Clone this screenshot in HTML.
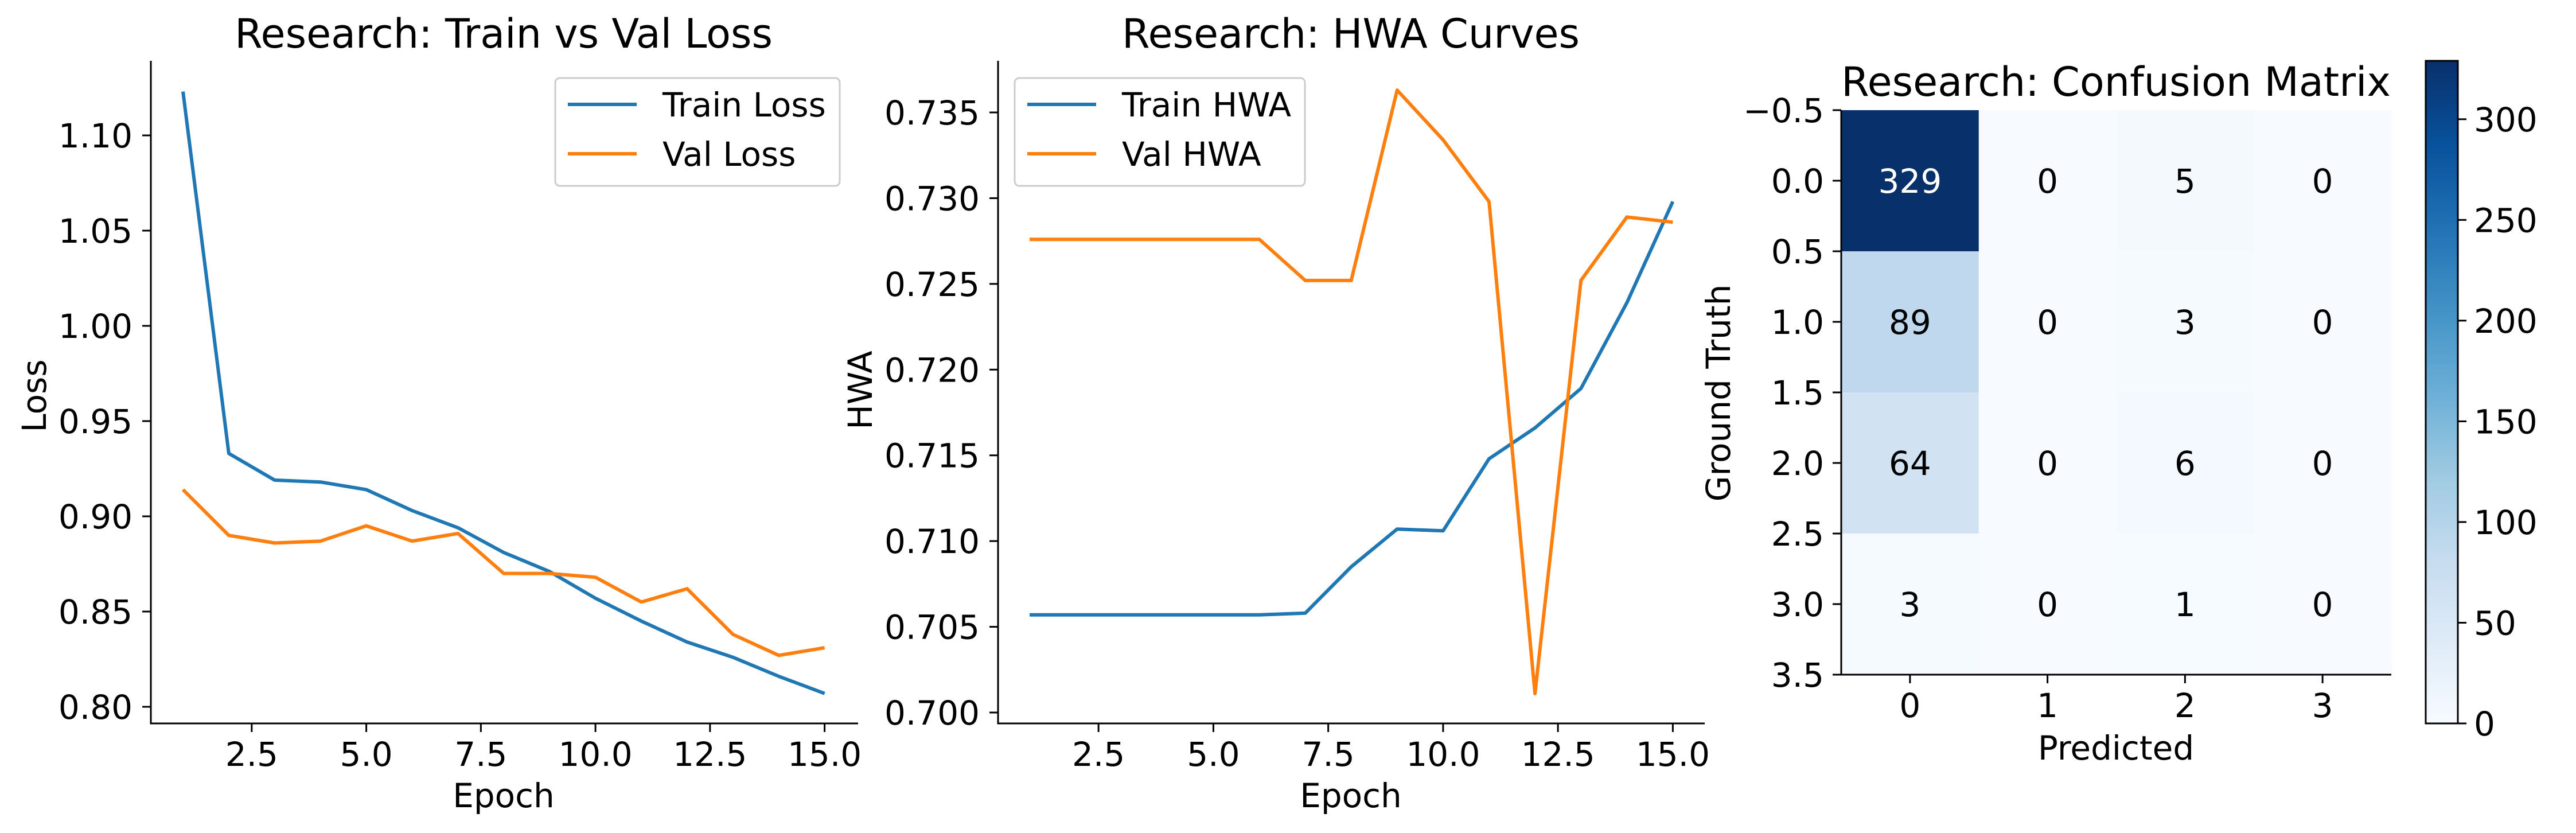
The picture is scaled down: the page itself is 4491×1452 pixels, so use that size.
<!DOCTYPE html>
<html><head><meta charset="utf-8"><style>
html,body{margin:0;padding:0;background:#fff;}
svg{display:block;font-family:"DejaVu Sans","Liberation Sans",sans-serif;}
</style></head><body>
<svg id="fig" width="4491" height="1452" viewBox="0 0 4491 1452" xmlns="http://www.w3.org/2000/svg"></svg>
<script>
const epochs=[1,2,3,4,5,6,7,8,9,10,11,12,13,14,15];
const trainLoss=[1.123,0.933,0.919,0.918,0.914,0.903,0.894,0.881,0.871,0.857,0.845,0.834,0.826,0.816,0.807];
const valLoss=[0.914,0.890,0.886,0.887,0.895,0.887,0.891,0.870,0.870,0.868,0.855,0.862,0.838,0.827,0.831];
const trainHWA=[0.7057,0.7057,0.7057,0.7057,0.7057,0.7057,0.7058,0.7085,0.7107,0.7106,0.7148,0.7166,0.7189,0.7239,0.7298];
const valHWA=[0.7276,0.7276,0.7276,0.7276,0.7276,0.7276,0.7252,0.7252,0.7363,0.7334,0.7298,0.7011,0.7252,0.7289,0.7286];
const xTicks=[2.5,5.0,7.5,10.0,12.5,15.0];
const lossTicks=[0.80,0.85,0.90,0.95,1.00,1.05,1.10];
const hwaTicks=[0.700,0.705,0.710,0.715,0.720,0.725,0.730,0.735];
const cmClasses=[0,1,2,3];
const cmValues=[[329,0,5,0],[89,0,3,0],[64,0,6,0],[3,0,1,0]];
const cmYTicks=[-0.5,0.0,0.5,1.0,1.5,2.0,2.5,3.0,3.5];
const cbTicks=[0,50,100,150,200,250,300];

const svg=document.getElementById('fig');
const NS='http://www.w3.org/2000/svg';
function mk(tag,attrs,parent){const e=document.createElementNS(NS,tag);for(const k in attrs)e.setAttribute(k,attrs[k]);(parent||svg).appendChild(e);return e;}
function txt(s,attrs,parent){const e=mk('text',attrs,parent);e.textContent=s;return e;}
const FS=58, TFS=70;
const BLUE='#1f77b4', ORANGE='#ff7f0e';

function linePanel(cfg){
  const g=mk('g',{});
  
  
  const sx=v=>cfg.x0px+(v-cfg.x0v)*cfg.xs;
  const sy=v=>cfg.y0px+(v-cfg.y0v)*cfg.ys;
  cfg.series.forEach(s=>{
    const d=epochs.map((e,i)=>(i?'L':'M')+sx(e).toFixed(1)+' '+sy(s.data[i]).toFixed(1)).join(' ');
    const p=mk('path',{d:d,fill:'none',stroke:s.color,'stroke-width':6,'stroke-linejoin':'round'},g);
    
    
  });
  const ax=mk('path',{d:`M${cfg.left} ${cfg.top} V${cfg.bottom} H${cfg.right}`,fill:'none',stroke:'#000','stroke-width':3},g);
  
  
  xTicks.forEach(t=>{
    const x=sx(t);
    mk('line',{x1:x,y1:cfg.bottom,x2:x,y2:cfg.bottom+15,stroke:'#000','stroke-width':3},g);
    const l=txt(t.toFixed(1),{x:x,y:1335,'font-size':FS,'text-anchor':'middle'},g);
    
    
  });
  cfg.yTicks.forEach(t=>{
    const y=sy(t);
    mk('line',{x1:cfg.left,y1:y,x2:cfg.left-15,y2:y,stroke:'#000','stroke-width':3},g);
    const l=txt(t.toFixed(cfg.dec),{x:cfg.left-32,y:y+21,'font-size':FS,'text-anchor':'end'},g);
    
    
  });
  const t=txt(cfg.title,{x:cfg.tx,y:83,'font-size':TFS,'text-anchor':'middle'},g);
  
  
  const xl=txt('Epoch',{x:cfg.tx,y:1407,'font-size':FS,'text-anchor':'middle'},g);
  
  
  const yl=txt(cfg.ylabel,{x:0,y:0,'font-size':FS,'text-anchor':'middle',transform:`translate(${cfg.ylx},${cfg.yly}) rotate(-90)`},g);
  
  
  const lg=mk('g',{},g);
  
  
  mk('rect',{x:cfg.lx,y:136,width:cfg.lw,height:188,rx:8,fill:'#fff','fill-opacity':0.8,stroke:'#ccc','stroke-width':3},lg);
  cfg.series.forEach((s,i)=>{
    const yy=182+i*86;
    const e=mk('g',{},lg);
    
    
    mk('line',{x1:cfg.lx+22,y1:yy,x2:cfg.lx+142,y2:yy,stroke:s.color,'stroke-width':6},e);
    txt(s.label,{x:cfg.lx+187,y:yy+21,'font-size':FS},e);
  });
}
linePanel({name:'loss-chart',title:'Research: Train vs Val Loss',ylabel:'Loss',
  left:263,right:1496,top:106,bottom:1261,x0v:1,x0px:319,xs:79.9,y0v:0.80,y0px:1232,ys:-(1232-236)/0.30,
  yTicks:lossTicks,dec:2,tx:878,ylx:80,yly:690,lx:968,lw:496,
  series:[{id:'train-loss-line',label:'Train Loss',data:trainLoss,color:BLUE},{id:'val-loss-line',label:'Val Loss',data:valLoss,color:ORANGE}]});
linePanel({name:'hwa-chart',title:'Research: HWA Curves',ylabel:'HWA',
  left:1740,right:2972,top:106,bottom:1261,x0v:1,x0px:1795,xs:80.1,y0v:0.700,y0px:1242,ys:-(1242-196)/0.035,
  yTicks:hwaTicks,dec:3,tx:2355,ylx:1520,yly:680,lx:1769,lw:506,
  series:[{id:'train-hwa-line',label:'Train HWA',data:trainHWA,color:BLUE},{id:'val-hwa-line',label:'Val HWA',data:valHWA,color:ORANGE}]});

const stops=['#f7fbff','#deebf7','#c6dbef','#9ecae1','#6baed6','#4292c6','#2171b5','#08519c','#08306b'];
function hex(h){return [1,3,5].map(i=>parseInt(h.substr(i,2),16));}
function blues(t){t=Math.max(0,Math.min(1,t));const f=t*8,i=Math.min(7,Math.floor(f)),r=f-i;const a=hex(stops[i]),b=hex(stops[i+1]);return 'rgb('+a.map((v,k)=>Math.round(v+(b[k]-v)*r)).join(',')+')';}
const vmax=Math.max(...cmValues.flat()), vmin=0;
const cmL=3210,cmR=4169,cmT=192,cmB=1176;
const cw=(cmR-cmL)/4,ch=(cmB-cmT)/4;
const cg=mk('g',{});


cmValues.forEach((row,r)=>row.forEach((v,c)=>{
  const rc=mk('rect',{x:cmL+c*cw,y:cmT+r*ch,width:cw+0.5,height:ch+0.5,fill:blues((v-vmin)/(vmax-vmin))},cg);
  
  
  const t=txt(String(v),{x:cmL+(c+0.5)*cw,y:cmT+(r+0.5)*ch+21,'font-size':FS,'text-anchor':'middle',fill:v>vmax/2?'#fff':'#000'},cg);
  
  
}));
mk('path',{d:`M${cmL} ${cmT} V${cmB} H${cmR}`,fill:'none',stroke:'#000','stroke-width':3},cg);
cmClasses.forEach(c=>{
  const x=cmL+(c+0.5)*cw;
  mk('line',{x1:x,y1:cmB,x2:x,y2:cmB+15,stroke:'#000','stroke-width':3},cg);
  const l=txt(String(c),{x:x,y:1250,'font-size':FS,'text-anchor':'middle'},cg);
  
  
});
cmYTicks.forEach(t=>{
  const y=cmT+(t+0.5)*ch;
  mk('line',{x1:cmL,y1:y,x2:cmL-15,y2:y,stroke:'#000','stroke-width':3},cg);
  const l=txt((t<0?'\u2212':'')+Math.abs(t).toFixed(1),{x:3180,y:y+21,'font-size':FS,'text-anchor':'end'},cg);
  
  
});
const ct=txt('Research: Confusion Matrix',{x:3689,y:167,'font-size':TFS,'text-anchor':'middle'},cg);


const px=txt('Predicted',{x:3689,y:1324,'font-size':FS,'text-anchor':'middle'},cg);


const gy=txt('Ground Truth',{x:0,y:0,'font-size':FS,'text-anchor':'middle',transform:'translate(3016,685) rotate(-90)'},cg);


const cbL=4229,cbR=4285,cbT=106,cbB=1261;
const cb=mk('g',{});


const defs=mk('defs',{},cb);
const lgr=mk('linearGradient',{id:'bl',x1:0,y1:1,x2:0,y2:0},defs);
stops.forEach((s,i)=>mk('stop',{offset:i/8,'stop-color':s},lgr));
mk('rect',{x:cbL,y:cbT,width:cbR-cbL,height:cbB-cbT,fill:'url(#bl)',stroke:'#000','stroke-width':3},cb);
cbTicks.forEach(t=>{
  const y=cbB-(t-vmin)/(vmax-vmin)*(cbB-cbT);
  mk('line',{x1:cbR,y1:y,x2:cbR+15,y2:y,stroke:'#000','stroke-width':3},cb);
  const l=txt(String(t),{x:4313,y:y+21,'font-size':FS},cb);
  
  
});
</script>
</body></html>
